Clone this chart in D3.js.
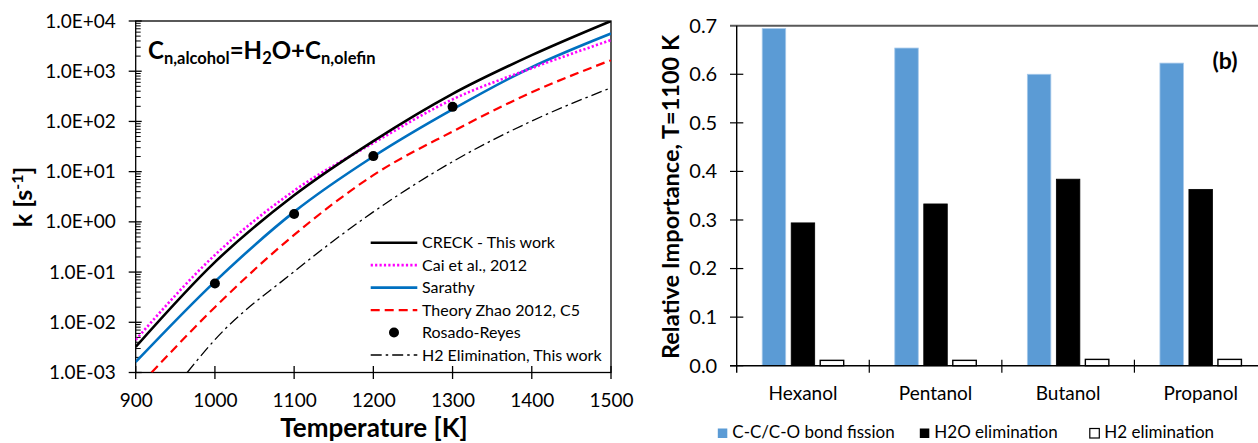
<!DOCTYPE html>
<html><head><meta charset="utf-8">
<script src="https://cdn.jsdelivr.net/npm/d3@7"></script>
<style>
body{margin:0;background:#fff}
svg{display:block}
text{font-family:Lato,"Open Sans",sans-serif;fill:#000}
</style>
</head><body>
<svg id="c" width="1258" height="443"></svg>
<script>
// ---------- Left chart data: rate constant k [s-1] vs temperature [K] ----------
const creckT = [900, 1000, 1100, 1200, 1300, 1400, 1500];
const creckK = [3.24e-3, 0.158, 3.39, 40.7, 355, 2090, 1.0e4];
const caiT = [900, 1000, 1100, 1200, 1300, 1400, 1500];
const caiK = [4.47e-3, 0.219, 4.17, 37.2, 275, 1150, 4170];
const sarathyT = [900, 1000, 1100, 1200, 1300, 1400, 1500];
const sarathyK = [1.62e-3, 0.0646, 1.58, 20.0, 174, 1200, 5620];
const zhaoT = [920, 1000, 1100, 1200, 1300, 1400, 1500];
const zhaoK = [1.0e-3, 0.020, 0.55, 8.5, 63, 380, 1660];
const h2T = [965, 1000, 1100, 1200, 1300, 1400, 1500];
const h2K = [1.0e-3, 4.5e-3, 0.102, 1.58, 15.8, 102, 468];
const rosadoT = [1000, 1100, 1200, 1300];
const rosadoK = [0.059, 1.43, 20.4, 195];
const leftXTicks = [900, 1000, 1100, 1200, 1300, 1400, 1500];
const leftYTicks = [1e-3, 1e-2, 1e-1, 1e0, 1e1, 1e2, 1e3, 1e4];
const leftLegend = ["CRECK - This work", "Cai et al., 2012", "Sarathy", "Theory Zhao 2012, C5", "Rosado-Reyes", "H2 Elimination, This work"];

// ---------- Right chart data: relative importance at T=1100 K ----------
const categories = ["Hexanol", "Pentanol", "Butanol", "Propanol"];
const seriesNames = ["C-C/C-O bond fission", "H2O elimination", "H2 elimination"];
const bondFission = [0.694, 0.654, 0.600, 0.623];
const h2oElim = [0.294, 0.333, 0.384, 0.363];
const h2Elim = [0.011, 0.011, 0.013, 0.013];
const rightYTicks = [0, 0.1, 0.2, 0.3, 0.4, 0.5, 0.6, 0.7];

const svg = d3.select("#c");

// =================== LEFT CHART ===================
const L = {l: 135.7, r: 611, t: 21, b: 372.5};
const xL = d3.scaleLinear().domain([900, 1500]).range([L.l, L.r]);
const yL = d3.scaleLog().domain([1e-3, 1e4]).range([L.b, L.t]);

svg.append("clipPath").attr("id", "clipL").append("rect")
  .attr("x", L.l).attr("y", L.t).attr("width", L.r - L.l).attr("height", L.b - L.t);

const gL = svg.append("g");
gL.append("rect").attr("x", L.l).attr("y", L.t).attr("width", L.r - L.l).attr("height", L.b - L.t)
  .attr("fill", "none").attr("stroke", "#000").attr("stroke-width", 1.3);

const minor = [];
for (let e = -3; e < 4; e++) for (let m = 2; m <= 9; m++) minor.push(m * Math.pow(10, e));
gL.selectAll(".mn").data(minor).join("line")
  .attr("x1", L.l).attr("x2", L.l + 5).attr("y1", d => yL(d)).attr("y2", d => yL(d))
  .attr("stroke", "#000").attr("stroke-width", 1);
gL.selectAll(".mj").data(leftYTicks).join("line")
  .attr("x1", L.l - 7).attr("x2", L.l + 6).attr("y1", d => yL(d)).attr("y2", d => yL(d))
  .attr("stroke", "#000").attr("stroke-width", 1.3);
gL.selectAll(".xt").data(leftXTicks).join("line")
  .attr("x1", d => xL(d)).attr("x2", d => xL(d)).attr("y1", L.b - 6.5).attr("y2", L.b + 6.5)
  .attr("stroke", "#000").attr("stroke-width", 1.3);

const fmtE = d => {
  const [m, e] = d.toExponential(1).split("e");
  return m + "E" + e[0] + e.slice(1).padStart(2, "0");
};
const yAxL = gL.append("g").attr("transform", `translate(${L.l},0)`)
  .call(d3.axisLeft(yL).tickValues(leftYTicks).tickFormat(fmtE).tickSize(0).tickPadding(20));
yAxL.select(".domain").remove();
yAxL.selectAll("text").attr("font-size", 19).attr("font-family", "Lato");

const xAxL = gL.append("g").attr("transform", `translate(0,${L.b})`)
  .call(d3.axisBottom(xL).tickValues(leftXTicks).tickFormat(d3.format("d")).tickSize(0).tickPadding(21));
xAxL.select(".domain").remove();
xAxL.selectAll("text").attr("font-size", 19).attr("font-family", "Lato");

gL.append("text").attr("x", 374).attr("y", 437).attr("text-anchor", "middle")
  .attr("font-size", 26).attr("font-weight", "bold").text("Temperature [K]");
const kt = gL.append("text").attr("transform", "translate(32,197) rotate(-90)")
  .attr("text-anchor", "middle").attr("font-size", 25).attr("font-weight", "bold");
kt.append("tspan").text("k [s");
kt.append("tspan").attr("font-size", 16).attr("dy", -9).text("-1");
kt.append("tspan").attr("dy", 9).text("]");

const tt = gL.append("text").attr("x", 148).attr("y", 58.5).attr("font-size", 24).attr("font-weight", "bold");
tt.append("tspan").text("C");
tt.append("tspan").attr("font-size", 16.5).attr("dy", 5).text("n,alcohol");
tt.append("tspan").attr("dy", -5).text("=H");
tt.append("tspan").attr("font-size", 16.5).attr("dy", 5).text("2");
tt.append("tspan").attr("dy", -5).text("O+C");
tt.append("tspan").attr("font-size", 16.5).attr("dy", 5).text("n,olefin");

const line = d3.line().x(d => xL(d[0])).y(d => yL(d[1])).curve(d3.curveMonotoneX);
const zip = (a, b) => a.map((v, i) => [v, b[i]]);
const styles = [
  {T: h2T, K: h2K, color: "#000", w: 1.3, dash: "11,4,2.5,4"},
  {T: zhaoT, K: zhaoK, color: "#ff0000", w: 2.2, dash: "9,5"},
  {T: sarathyT, K: sarathyK, color: "#0070c0", w: 2.6, dash: null},
  {T: caiT, K: caiK, color: "#ff00ff", w: 2.6, dash: "2.2,2.2"},
  {T: creckT, K: creckK, color: "#000", w: 2.6, dash: null},
];
const curves = gL.append("g").attr("clip-path", "url(#clipL)");
styles.forEach(s => {
  curves.append("path").attr("d", line(zip(s.T, s.K))).attr("fill", "none")
    .attr("stroke", s.color).attr("stroke-width", s.w).attr("stroke-dasharray", s.dash);
});
curves.selectAll(".pt").data(zip(rosadoT, rosadoK)).join("circle")
  .attr("cx", d => xL(d[0])).attr("cy", d => yL(d[1])).attr("r", 5).attr("fill", "#000");

const legY = d3.scalePoint().domain(leftLegend).range([242.7, 355]);
const legStyles = [styles[4], styles[3], styles[2], styles[1], null, styles[0]];
const lg = gL.append("g");
leftLegend.forEach((name, i) => {
  const y = legY(name), s = legStyles[i];
  lg.append("rect").attr("x", 368).attr("y", y - 10).attr("width", 240).attr("height", 20).attr("fill", "#fff");
  if (s) lg.append("line").attr("x1", 370.7).attr("x2", 417.3).attr("y1", y).attr("y2", y)
    .attr("stroke", s.color).attr("stroke-width", s.w).attr("stroke-dasharray", s.dash);
  else lg.append("circle").attr("cx", 394).attr("cy", y).attr("r", 5).attr("fill", "#000");
  lg.append("text").attr("x", 422).attr("y", y).attr("dy", "0.35em").attr("font-size", 16).text(name);
});

// =================== RIGHT CHART ===================
const R = {l: 736.7, r: 1267, t: 25.7, b: 365.7};
const xR = d3.scaleBand().domain(categories).range([R.l, R.r]).padding(0);
const xS = d3.scaleBand().domain(seriesNames).range([25.5, 107]).paddingInner(0.19).paddingOuter(0);
const yR = d3.scaleLinear().domain([0, 0.7]).range([R.b, R.t]);
const gR = svg.append("g");

gR.append("line").attr("x1", 730).attr("x2", 1258).attr("y1", R.t).attr("y2", R.t)
  .attr("stroke", "#595959").attr("stroke-width", 2);

const seriesVals = [bondFission, h2oElim, h2Elim];
const fills = ["#5b9bd5", "#000", "#fff"];
const strokes = ["#a5c8ea", "#000", "#000"];
seriesNames.forEach((s, si) => {
  gR.selectAll(".b" + si).data(categories).join("rect")
    .attr("x", c => xR(c) + xS(s)).attr("width", xS.bandwidth())
    .attr("y", (c, i) => yR(seriesVals[si][i])).attr("height", (c, i) => R.b - yR(seriesVals[si][i]))
    .attr("fill", fills[si]).attr("stroke", strokes[si]).attr("stroke-width", si === 2 ? 1.4 : 0.8);
});

gR.append("line").attr("x1", R.l).attr("x2", R.l).attr("y1", R.t).attr("y2", R.b + 7)
  .attr("stroke", "#000").attr("stroke-width", 1.4);
gR.append("line").attr("x1", 730).attr("x2", 1258).attr("y1", R.b).attr("y2", R.b)
  .attr("stroke", "#000").attr("stroke-width", 1.4);
gR.selectAll(".yt").data(rightYTicks.slice(0, -1)).join("line")
  .attr("x1", 730).attr("x2", 743.3).attr("y1", d => yR(d)).attr("y2", d => yR(d))
  .attr("stroke", "#000").attr("stroke-width", 1.2);
gR.selectAll(".ct").data(categories.slice(1)).join("line")
  .attr("x1", c => xR(c)).attr("x2", c => xR(c)).attr("y1", R.b - 6).attr("y2", R.b + 7)
  .attr("stroke", "#000").attr("stroke-width", 1.2);

const yAxR = gR.append("g").attr("transform", `translate(${R.l},0)`)
  .call(d3.axisLeft(yR).tickValues(rightYTicks).tickFormat(d3.format(".1f")).tickSize(0).tickPadding(19.5));
yAxR.select(".domain").remove();
yAxR.selectAll("text").attr("font-size", 20).attr("font-family", "Lato");

const xAxR = gR.append("g").attr("transform", `translate(0,${R.b})`)
  .call(d3.axisBottom(xR).tickSize(0).tickPadding(21));
xAxR.select(".domain").remove();
xAxR.selectAll("text").attr("font-size", 19).attr("font-family", "Lato");

gR.append("text").attr("transform", "translate(679,197) rotate(-90)").attr("text-anchor", "middle")
  .attr("font-size", 23.5).attr("font-weight", "bold").text("Relative Importance,  T=1100 K");
gR.append("text").attr("x", 1225).attr("y", 69).attr("text-anchor", "middle")
  .attr("font-size", 23).attr("font-weight", "bold").text("(b)");

const legX = [717.3, 919.3, 1089.3];
seriesNames.forEach((s, i) => {
  gR.append("rect").attr("x", legX[i] + 0.5).attr("y", 428.5).attr("width", 9.5).attr("height", 9.5)
    .attr("fill", fills[i]).attr("stroke", i === 2 ? "#000" : "none").attr("stroke-width", 1.2);
  gR.append("text").attr("x", legX[i] + 15).attr("y", 438).attr("font-size", 17).text(s);
});
</script>
</body></html>
